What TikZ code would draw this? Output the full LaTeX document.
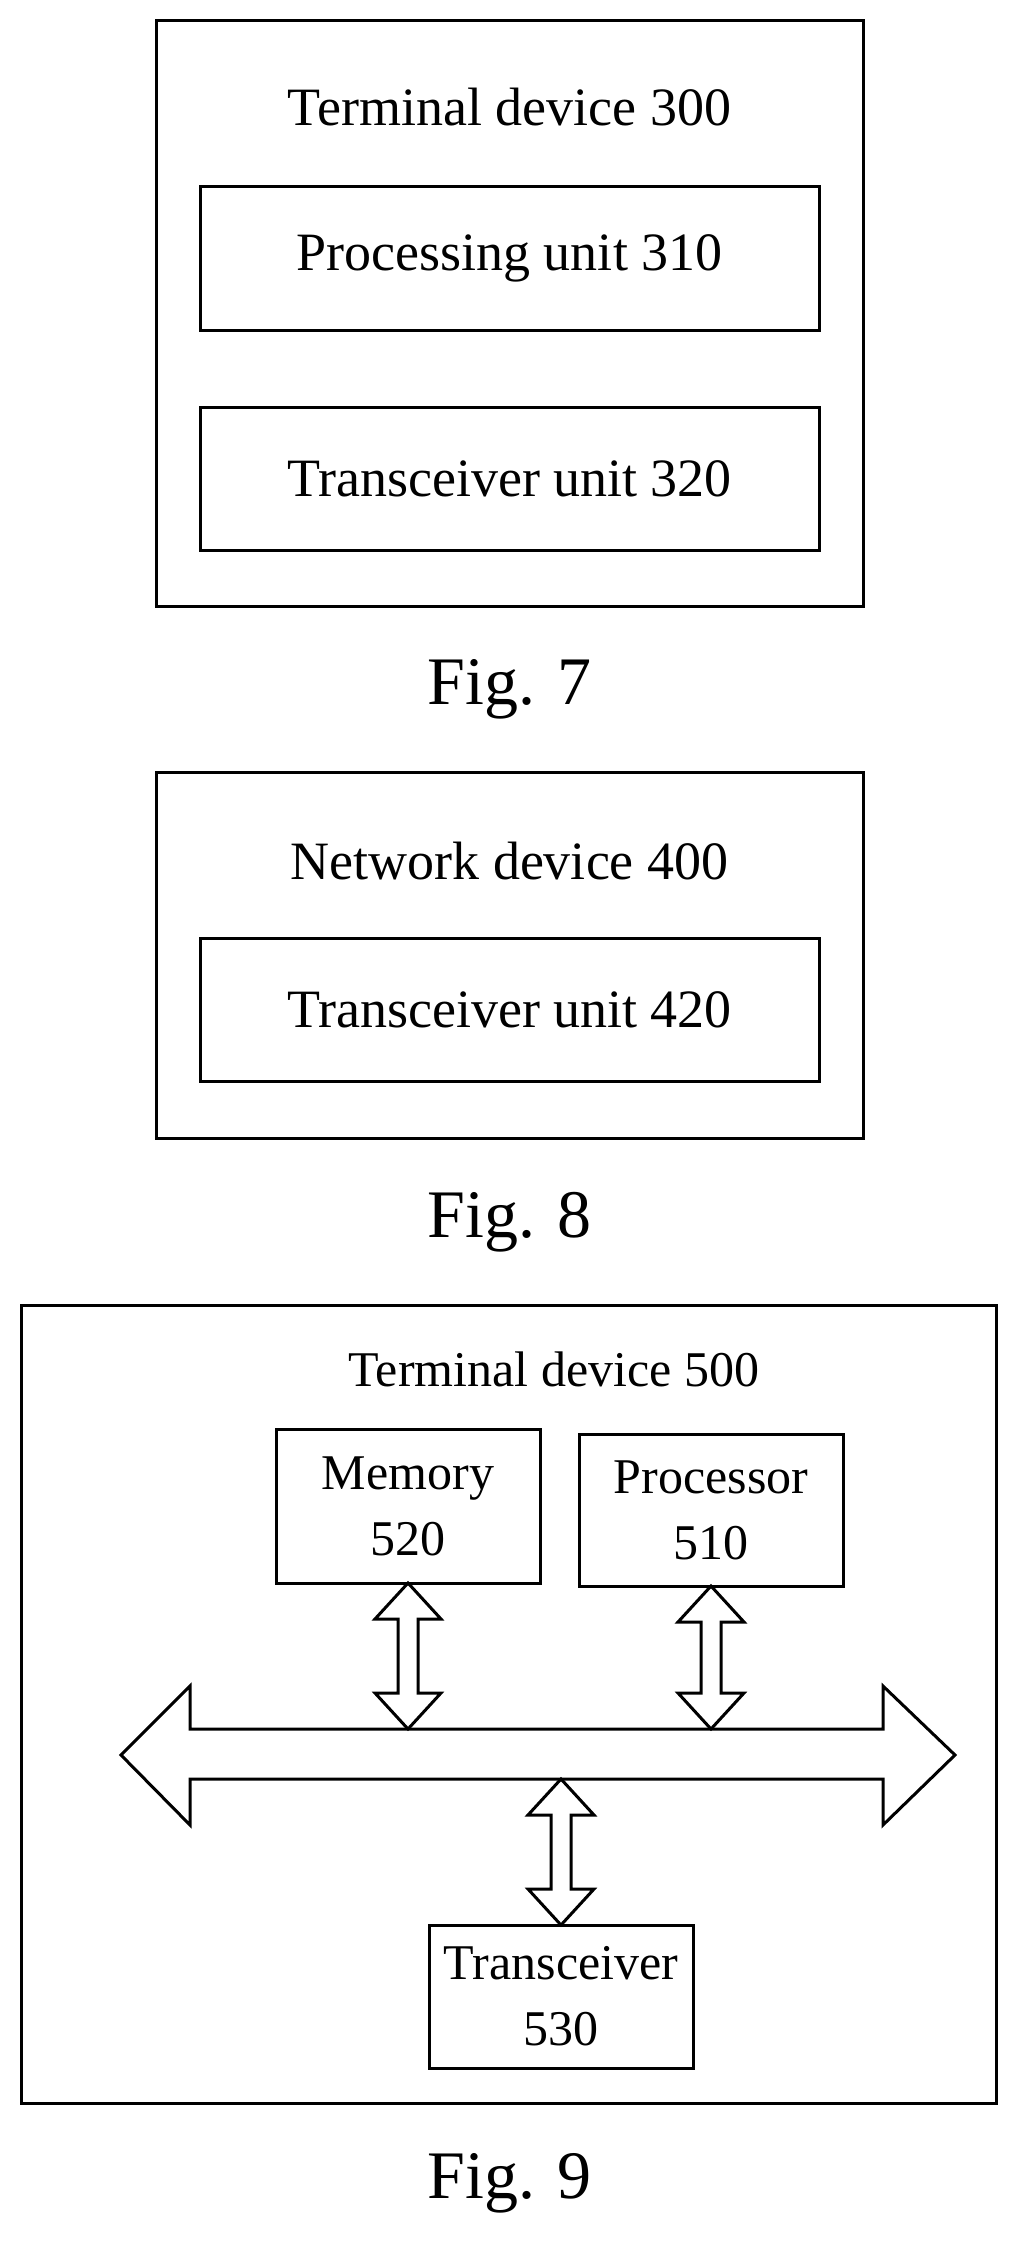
\documentclass[tikz,border=0pt]{standalone}
\usepackage{fontspec}
\setmainfont{Liberation Serif}
\begin{document}
\begin{tikzpicture}[x=1pt,y=-1pt,
  box/.style={draw,line width=3pt,inner sep=0pt},
  big/.style={font=\fontsize{54}{60}\selectfont},
  mid/.style={font=\fontsize{50}{60}\selectfont,align=center},
  figcap/.style={font=\fontsize{68}{72}\selectfont},
  ln/.style={line width=3pt,line join=miter}]
\useasboundingbox (0,0) rectangle (1019,2245);
% Fig 7
\node[box,minimum width=707pt,minimum height=585pt] (t300) at (509.5,313.5) {};
\node[big] (t300l) at (509.5,107) {Terminal device 300};
\node[box,big,minimum width=619pt,minimum height=143pt] (p310) at (509.5,258.5) {Processing unit 310};
\node[box,big,minimum width=619pt,minimum height=143pt] (t320) at (509.5,478.5) {Transceiver unit 320};
\node[figcap] (f7) at (509.5,689) {Fig. 7};
% Fig 8
\node[box,minimum width=707pt,minimum height=366pt] (n400) at (509.5,955) {};
\node[big] (n400l) at (509.5,861) {Network device 400};
\node[box,big,minimum width=619pt,minimum height=143pt] (t420) at (509.5,1009.5) {Transceiver unit 420};
\node[figcap] (f8) at (509.5,1222) {Fig. 8};
% Fig 9
\node[box,minimum width=975pt,minimum height=798pt] (t500) at (508.5,1704) {};
\node[mid] (t500l) at (554,1369) {Terminal device 500};
\node[box,mid,minimum width=264pt,minimum height=154pt] (m520) at (408,1506) {Memory\\[6pt]520};
\node[box,mid,minimum width=264pt,minimum height=152pt] (p510) at (711,1510) {Processor\\[6pt]510};
\node[box,mid,minimum width=264pt,minimum height=143pt] (t530) at (561,1996.5) {Transceiver\\[6pt]530};
\node[figcap] (f9) at (509.5,2183) {Fig. 9};
% bus
\coordinate (busL) at (121,1755);
\coordinate (busR) at (955,1755);
\draw[ln] (busL) -- (190,1686) -- (190,1729) -- (883,1729) -- (883,1686) -- (busR)
  -- (883,1825) -- (883,1779) -- (190,1779) -- (190,1825) -- cycle;
% vertical double arrows
\foreach \n/\x/\a/\b in {ma/408/1583/1729, pa/711/1586/1729, ta/561/1779/1925}{
  \draw[ln] (\x,\a) -- (\x+33,\a+36) -- (\x+10,\a+36) -- (\x+10,\b-36) -- (\x+33,\b-36)
    -- (\x,\b) -- (\x-33,\b-36) -- (\x-10,\b-36) -- (\x-10,\a+36) -- (\x-33,\a+36) -- cycle;
}
\end{tikzpicture}
\end{document}
